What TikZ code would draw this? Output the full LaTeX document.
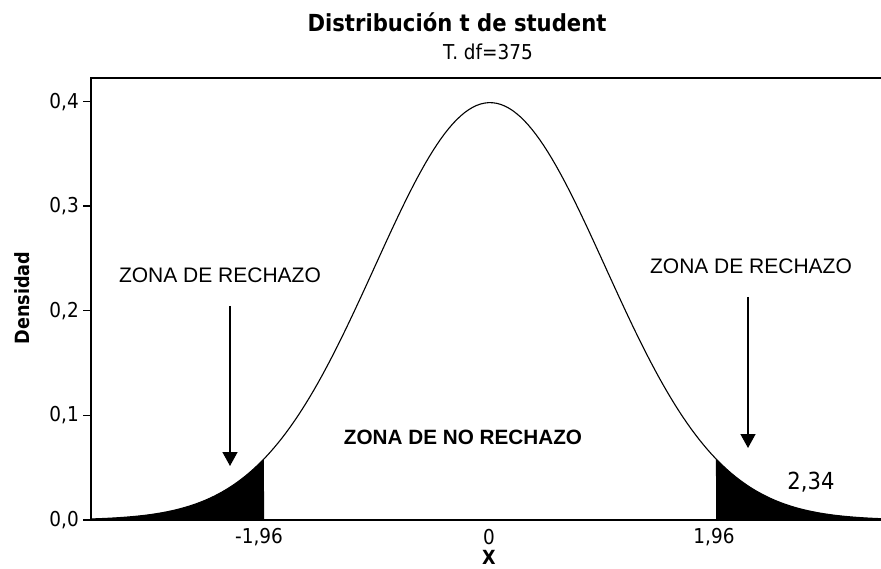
\documentclass[tikz,border=0pt]{standalone}
\usepackage{fontspec}
\setmainfont{Liberation Sans}
\newfontfamily\tah[FakeStretch=0.9]{DejaVu Sans}
\usetikzlibrary{arrows.meta}
\begin{document}
\begin{tikzpicture}[x=1pt,y=-1pt,
  frame/.style={line width=1.4pt},
  curve/.style={line width=1.1pt},
  ticklab/.style={font=\tah\fontsize{20.5}{22}\selectfont, inner sep=0pt},
  zona/.style={font=\fontsize{21}{24}\selectfont, inner sep=0pt},
  zonab/.style={font=\bfseries\fontsize{20.7}{23}\selectfont, inner sep=0pt},
  pointer/.style={line width=1.5pt, -{Triangle[width=15pt,length=14pt]}}
]
\useasboundingbox (0,0) rectangle (881,569);
\fill[white] (0,0) rectangle (881,569);
% tails
\fill[black] (91,520) -- plot[domain=-3.46:-1.96, samples=60, variable=\t] ({490+115.3*\t},{520-1046*0.39894*exp(-\t*\t/2)}) -- (264,520) -- cycle;
\fill[black] (716,520) -- plot[domain=1.96:3.40, samples=60, variable=\t] ({490+115.3*\t},{520-1046*0.39894*exp(-\t*\t/2)}) -- (881,520) -- cycle;
% curve
\draw[curve] plot[domain=-3.46:3.40, samples=200, variable=\t] ({490+115.3*\t},{520-1046*0.39894*exp(-\t*\t/2)});
% frame
\draw[frame] (881,78) -- (91,78) -- (91,520) -- (881,520);
% y ticks
\foreach \v/\lab in {0/0,1/1,2/2,3/3,4/4} {
  \draw[frame] (83,{520-104.6*\v}) -- (91,{520-104.6*\v});
  \node[ticklab, anchor=east] (yt\v) at (79,{520-104.6*\v}) {0,\lab};
}
% x labels
\node[ticklab] (xm) at (259,537) {-1,96};
\node[ticklab] (x0) at (489,537) {0};
\node[ticklab] (xp) at (714,537) {1,96};
\node[ticklab, font=\tah\bfseries\fontsize{19.5}{21}\selectfont] (xlab) at (489,557) {X};
\node[ticklab, font=\tah\bfseries\fontsize{19.6}{22}\selectfont, rotate=90] (ylab) at (22,298) {Densidad};
% title
\node[ticklab, font=\tah\bfseries\fontsize{23.5}{26}\selectfont] (title) at (457,22) {Distribución t de student};
\node[ticklab] (sub) at (488,52) {T. df=375};
% annotations
\node[zona] (zl) at (220,275) {ZONA DE RECHAZO};
\node[zona] (zr) at (751,266) {ZONA DE RECHAZO};
\node[zonab] (zn) at (463,437) {ZONA DE NO RECHAZO};
\node[ticklab, font=\tah\fontsize{23.5}{26}\selectfont] (v234) at (811,482) {2,34};
\coordinate (al1) at (230,306);
\coordinate (al2) at (230,466);
\coordinate (ar1) at (748,297);
\coordinate (ar2) at (748,448);
\draw[pointer] (al1) -- (al2);
\draw[pointer] (ar1) -- (ar2);
\end{tikzpicture}
\end{document}
